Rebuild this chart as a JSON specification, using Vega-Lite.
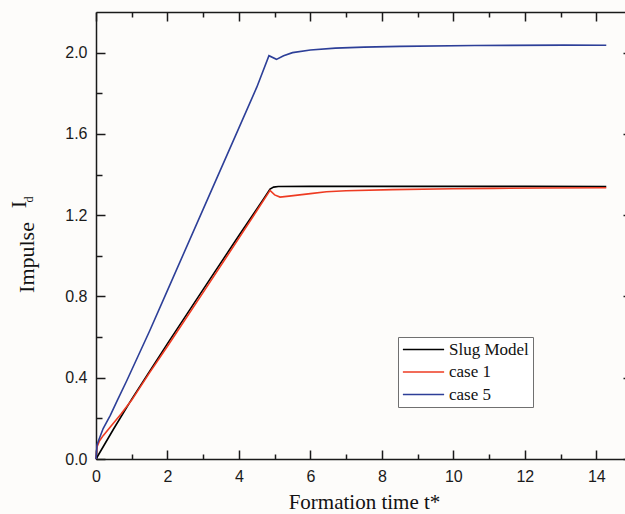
{
  "$schema": "https://vega.github.io/schema/vega-lite/v6.json",
  "width": 536,
  "height": 447,
  "autosize": "none",
  "padding": {"left": 96, "top": 12, "right": 0, "bottom": 55},
  "background": "#fdfcfa",
  "config": {
    "view": {"stroke": null},
    "axis": {
      "grid": false,
      "domainColor": "#1a1a1a",
      "domainWidth": 1.5,
      "tickColor": "#1a1a1a",
      "tickWidth": 1.5,
      "labelFont": "Liberation Sans",
      "labelFontSize": 16,
      "labelColor": "#1a1a1a",
      "labelFlush": false,
      "titleFont": "Liberation Serif",
      "titleFontWeight": "normal",
      "titleColor": "#111111"
    }
  },
  "data": {
    "values": [
      {"series": "Slug Model", "t": 0, "I": 0},
      {"series": "Slug Model", "t": 0.5, "I": 0.15},
      {"series": "Slug Model", "t": 1.0, "I": 0.295},
      {"series": "Slug Model", "t": 1.35, "I": 0.39},
      {"series": "Slug Model", "t": 2, "I": 0.568},
      {"series": "Slug Model", "t": 3, "I": 0.835},
      {"series": "Slug Model", "t": 4, "I": 1.1},
      {"series": "Slug Model", "t": 4.68, "I": 1.277},
      {"series": "Slug Model", "t": 4.87, "I": 1.328},
      {"series": "Slug Model", "t": 4.97, "I": 1.338},
      {"series": "Slug Model", "t": 5.1, "I": 1.341},
      {"series": "Slug Model", "t": 6, "I": 1.342},
      {"series": "Slug Model", "t": 8, "I": 1.342},
      {"series": "Slug Model", "t": 10, "I": 1.342},
      {"series": "Slug Model", "t": 12, "I": 1.342},
      {"series": "Slug Model", "t": 14.28, "I": 1.341},
      {"series": "case 1", "t": 0, "I": 0.0},
      {"series": "case 1", "t": 0.03, "I": 0.06},
      {"series": "case 1", "t": 0.1, "I": 0.09},
      {"series": "case 1", "t": 0.2, "I": 0.115},
      {"series": "case 1", "t": 0.4, "I": 0.158},
      {"series": "case 1", "t": 0.7, "I": 0.222},
      {"series": "case 1", "t": 1.0, "I": 0.29},
      {"series": "case 1", "t": 1.5, "I": 0.425},
      {"series": "case 1", "t": 2, "I": 0.555},
      {"series": "case 1", "t": 3, "I": 0.82},
      {"series": "case 1", "t": 4, "I": 1.087},
      {"series": "case 1", "t": 4.5, "I": 1.222},
      {"series": "case 1", "t": 4.87, "I": 1.322},
      {"series": "case 1", "t": 5.0, "I": 1.3},
      {"series": "case 1", "t": 5.15, "I": 1.289},
      {"series": "case 1", "t": 5.4, "I": 1.294},
      {"series": "case 1", "t": 6, "I": 1.306},
      {"series": "case 1", "t": 6.45, "I": 1.315},
      {"series": "case 1", "t": 7, "I": 1.32},
      {"series": "case 1", "t": 8.3, "I": 1.326},
      {"series": "case 1", "t": 10, "I": 1.33},
      {"series": "case 1", "t": 11.1, "I": 1.332},
      {"series": "case 1", "t": 12.5, "I": 1.334},
      {"series": "case 1", "t": 14.28, "I": 1.335},
      {"series": "case 5", "t": 0, "I": 0.0},
      {"series": "case 5", "t": 0.03, "I": 0.07},
      {"series": "case 5", "t": 0.07, "I": 0.09},
      {"series": "case 5", "t": 0.2, "I": 0.15},
      {"series": "case 5", "t": 0.4, "I": 0.215},
      {"series": "case 5", "t": 0.6, "I": 0.29},
      {"series": "case 5", "t": 0.86, "I": 0.385},
      {"series": "case 5", "t": 1.5, "I": 0.63},
      {"series": "case 5", "t": 2, "I": 0.83},
      {"series": "case 5", "t": 3, "I": 1.23},
      {"series": "case 5", "t": 4, "I": 1.63},
      {"series": "case 5", "t": 4.5, "I": 1.83},
      {"series": "case 5", "t": 4.84, "I": 1.985},
      {"series": "case 5", "t": 5.05, "I": 1.967},
      {"series": "case 5", "t": 5.25, "I": 1.985},
      {"series": "case 5", "t": 5.5, "I": 2.0},
      {"series": "case 5", "t": 6, "I": 2.013},
      {"series": "case 5", "t": 6.7, "I": 2.022},
      {"series": "case 5", "t": 7.5, "I": 2.027},
      {"series": "case 5", "t": 8.5, "I": 2.031},
      {"series": "case 5", "t": 10.6, "I": 2.035},
      {"series": "case 5", "t": 13.1, "I": 2.037},
      {"series": "case 5", "t": 14.28, "I": 2.036}
    ]
  },
  "resolve": {"axis": {"x": "independent", "y": "independent"}},
  "layer": [
    {
      "mark": {"type": "line", "strokeWidth": 1.6},
      "encoding": {
        "x": {
          "field": "t", "type": "quantitative",
          "scale": {"domain": [0, 15], "nice": false},
          "axis": {
            "orient": "bottom",
            "values": [0, 2, 4, 6, 8, 10, 12, 14],
            "tickSize": -9,
            "labelPadding": 18,
            "title": "Formation time t*",
            "titleFontSize": 21,
            "titleBaseline": "alphabetic",
            "titleY": 49
          }
        },
        "y": {
          "field": "I", "type": "quantitative",
          "scale": {"domain": [0, 2.2], "nice": false},
          "axis": {
            "orient": "left",
            "values": [0, 0.4, 0.8, 1.2, 1.6, 2.0],
            "format": ".1f",
            "tickSize": -9,
            "labelPadding": 18,
            "title": "Impulse",
            "titleFontSize": 22,
            "titleAngle": 270,
            "titleAlign": "center",
            "titleBaseline": "alphabetic",
            "titleX": -63,
            "titleY": 245
          }
        },
        "color": {
          "field": "series", "type": "nominal",
          "scale": {
            "domain": ["Slug Model", "case 1", "case 5"],
            "range": ["#000000", "#ee3b22", "#2d3f98"]
          },
          "legend": {
            "orient": "none",
            "legendX": 302,
            "legendY": 325,
            "title": null,
            "fillColor": "#ffffff",
            "strokeColor": "#707070",
            "padding": 4,
            "rowPadding": 4.5,
            "clipHeight": 17,
            "symbolType": "stroke",
            "symbolSize": 1700,
            "symbolStrokeWidth": 1.6,
            "labelOffset": 4,
            "labelFont": "Liberation Serif",
            "labelFontSize": 17,
            "labelColor": "#111111"
          }
        }
      }
    },
    {
      "mark": {"type": "line", "opacity": 0},
      "encoding": {
        "x": {
          "field": "t", "type": "quantitative",
          "axis": {"orient": "bottom", "values": [1, 3, 5, 7, 9, 11, 13], "tickSize": -5, "labels": false, "domain": false, "title": null}
        },
        "y": {
          "field": "I", "type": "quantitative",
          "axis": {
            "orient": "left", "values": [0.2, 0.6, 1.0, 1.4, 1.8], "tickSize": -6, "labels": false, "domain": false,
            "title": "I", "titleFontSize": 22, "titleAngle": 270, "titleAlign": "center", "titleBaseline": "alphabetic",
            "titleX": -71, "titleY": 192
          }
        },
        "detail": {"field": "series"}
      }
    },
    {
      "mark": {"type": "line", "opacity": 0},
      "encoding": {
        "x": {
          "field": "t", "type": "quantitative",
          "axis": {"orient": "top", "values": [0, 2, 4, 6, 8, 10, 12, 14], "tickSize": -9, "labels": false, "title": null}
        },
        "y": {
          "field": "I", "type": "quantitative",
          "axis": {"orient": "right", "values": [0, 0.4, 0.8, 1.2, 1.6, 2.0], "tickSize": -9, "labels": false, "title": null}
        },
        "detail": {"field": "series"}
      }
    },
    {
      "mark": {"type": "line", "opacity": 0},
      "encoding": {
        "x": {
          "field": "t", "type": "quantitative",
          "axis": {"orient": "top", "values": [1, 3, 5, 7, 9, 11, 13], "tickSize": -5, "labels": false, "domain": false, "title": null}
        },
        "y": {
          "field": "I", "type": "quantitative",
          "axis": {
            "orient": "right", "values": [0.2, 0.6, 1.0, 1.4, 1.8], "tickSize": -6, "labels": false, "domain": false,
            "title": "d", "titleFontSize": 12, "titleAngle": 270, "titleAlign": "center", "titleBaseline": "alphabetic",
            "titleX": -600, "titleY": 187
          }
        },
        "detail": {"field": "series"}
      }
    }
  ]
}
